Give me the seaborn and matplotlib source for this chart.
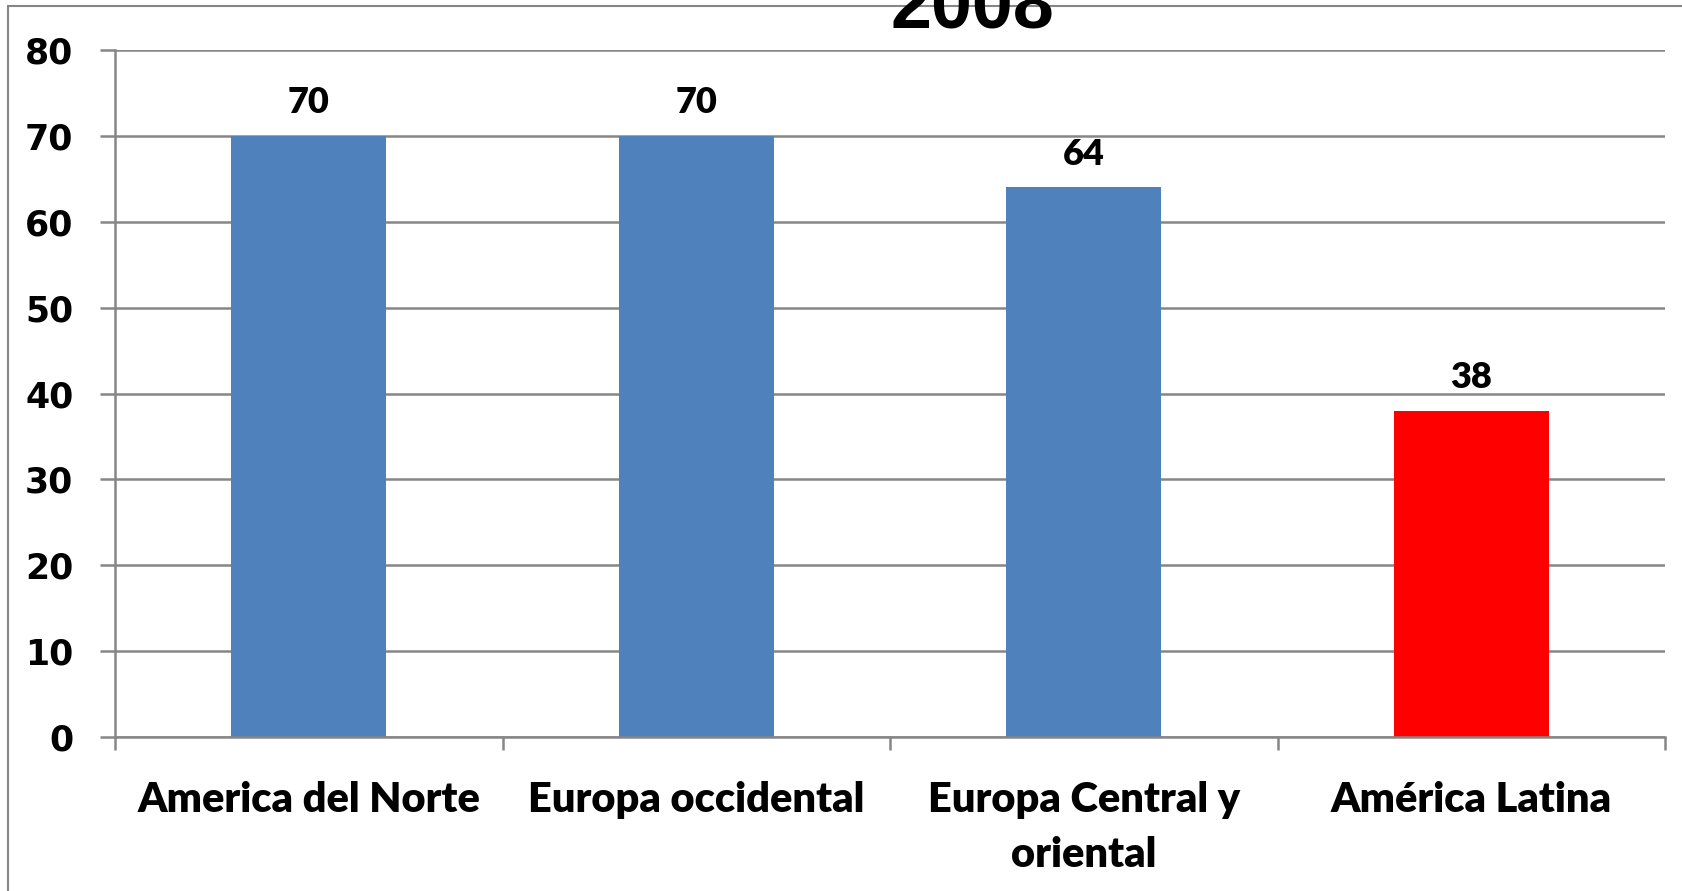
import matplotlib
matplotlib.use("Agg")
import matplotlib.pyplot as plt
import matplotlib.patches as patches
import seaborn as sns

# data
regions = ["America del Norte", "Europa occidental", "Europa Central y\noriental", "América Latina"]
values = [70, 70, 64, 38]
bar_colors = ["#4F81BD", "#4F81BD", "#4F81BD", "#FF0000"]
yticks = [0, 10, 20, 30, 40, 50, 60, 70, 80]
title = "2008"

sns.set_style("white")
plt.rcParams["text.color"] = "black"
plt.rcParams["xtick.color"] = "black"
plt.rcParams["ytick.color"] = "black"
grid_c = "#868686"

fig = plt.figure(figsize=(16.82, 8.91), dpi=100)
ax = fig.add_axes([115 / 1682, 1 - 737 / 891, 1550 / 1682, 687 / 891])

sns.barplot(x=regions, y=values, hue=regions, palette=bar_colors,
            width=0.4, saturation=1, legend=False, linewidth=0, ax=ax)

ax.set_ylim(0, 80)
ax.set_xlim(-0.5, len(regions) - 0.5)
ax.set_yticks(yticks)
ax.yaxis.grid(True, color=grid_c, linewidth=1.8)
ax.set_axisbelow(True)
for s in ["top", "right"]:
    ax.spines[s].set_visible(False)
for s in ["left", "bottom"]:
    ax.spines[s].set_color(grid_c)
    ax.spines[s].set_linewidth(1.8)

ax.tick_params(axis="y", left=True, length=11, width=1.8, color=grid_c,
               labelcolor="black", pad=19)
for t in ax.get_yticklabels():
    t.set_fontfamily("DejaVu Sans")
    t.set_fontweight("bold")
    t.set_fontsize(25)

# category boundary ticks
ax.set_xticks([i - 0.5 for i in range(len(regions) + 1)], minor=True)
ax.tick_params(axis="x", which="minor", bottom=True, length=9, width=1.8, color=grid_c)
ax.tick_params(axis="x", which="major", length=0, pad=32, labelcolor="black")
ax.set_xticks(range(len(regions)))
ax.set_xticklabels(regions, fontfamily="Lato", fontweight="heavy", fontsize=30,
                   linespacing=1.55, va="top")
ax.set_xlabel("")
ax.set_ylabel("")

for i, v in enumerate(values):
    ax.annotate(str(v), (i, v), xytext=(0, 12), textcoords="offset points",
                ha="center", va="bottom", fontfamily="Lato", fontweight="heavy",
                fontsize=26, color="black")

fig.text(972 / 1682, 1 - 27 / 891, title, ha="center", va="baseline",
         fontfamily="Liberation Sans", fontweight="bold", fontsize=53, color="black")

# outer chart border
fig.add_artist(patches.Rectangle((8 / 1682, -0.1), 1.2, 0.1 + 1 - 6 / 891,
                                 transform=fig.transFigure, fill=False,
                                 edgecolor=grid_c, linewidth=1.5, clip_on=False))

fig.savefig("out.png", dpi=100)
